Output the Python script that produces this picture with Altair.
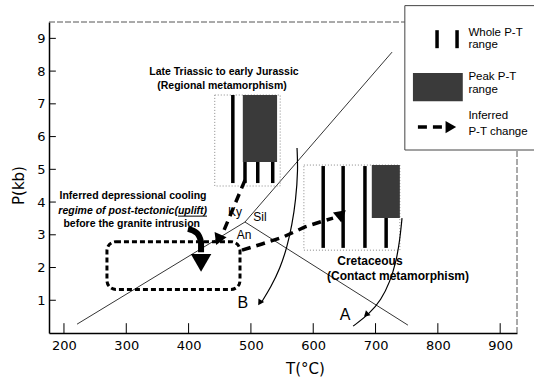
import altair as alt
import pandas as pd

# ---------------- data (T in deg C, P in kb) ----------------
T_DOMAIN = [176, 927]
P_DOMAIN = [0, 9.5]
x_ticks = [200, 300, 400, 500, 600, 700, 800, 900]
y_ticks = [1, 2, 3, 4, 5, 6, 7, 8, 9]

# Al2SiO5 phase boundaries (triple point)
ky_an_T, ky_an_P = [221, 490.5], [0.27, 3.39]
ky_sil_T, ky_sil_P = [490.5, 726.5], [3.39, 8.58]
an_sil_T, an_sil_P = [490.5, 752], [3.39, 0.24]

# Regional (Late Triassic - early Jurassic) ranges
reg_box_T, reg_box_P = [442, 547], [4.49, 7.27]
reg_bar_T = [471, 490.5, 511, 535]
reg_bar_P = [4.58, 7.27]
reg_peak_T, reg_peak_P = [487, 542], [5.22, 7.27]

# Contact (Cretaceous) ranges
cre_box_T, cre_box_P = [585, 739], [2.53, 5.13]
cre_bar_T = [616, 648, 683, 717]
cre_bar_P = [2.6, 5.1]
cre_peak_T, cre_peak_P = [694, 739], [3.51, 5.13]

# inferred depressional cooling regime box
cool_box_T, cool_box_P = [269, 482.5], [1.33, 2.79]

# inferred P-T changes (dashed arrows)
reg_path_T, reg_path_P = [490.5, 453.6], [4.67, 2.99]
reg_head = (449, 2.90, 203)
cre_path_T = [485.7, 517.8, 551.5, 586.8, 615.7, 631.8]
cre_path_P = [2.53, 2.72, 2.93, 3.24, 3.42, 3.51]
cre_head = (643, 3.60, 170)

# uplift arrow (thick black)
up_T = [399, 413.5, 420, 420]
up_P = [3.18, 3.05, 2.78, 2.47]
up_head = (420, 2.23, 180)

# curves A and B
curveB_T = [574, 575.6, 572, 566, 558, 547, 532, 517]
curveB_P = [5.65, 4.98, 4.06, 3.30, 2.63, 1.98, 1.40, 0.94]
B_head = (515, 0.95, 212)
curveA_T = [742.5, 739, 733, 723, 709, 690, 664]
curveA_P = [3.51, 2.84, 2.17, 1.56, 1.01, 0.58, 0.21]
A_head = (686, 0.58, 227)

# legend
leg_box_T, leg_box_P = [747, 965], [5.59, 10.0]
leg_bar_T = [798.7, 830.8]
leg_bar_P = [8.70, 9.25]
leg_peak_T, leg_peak_P = [760, 840], [7.08, 7.94]
leg_arrow_T, leg_arrow_P = [768, 808], 6.29
leg_head = (818, 6.29, 90)
leg_text_T = 849
leg_text = ["Whole P-T", "range", "Peak P-T", "range", "Inferred", "P-T change"]
leg_text_P = [9.16, 8.79, 7.82, 7.42, 6.62, 6.14]

# labels
title_text = ["Late Triassic to early Jurassic", "(Regional metamorphism)"]
title_T, title_P = [456.8, 453.6], [7.97, 7.54]
cre_text = ["Cretaceous", "(Contact metamorphism)"]
cre_text_T, cre_text_P = [691, 736], [2.20, 1.74]
cool_text = ["Inferred depressional cooling", "regime of post-tectonic(uplift)",
             "before the granite intrusion"]
cool_text_T, cool_text_P = [310.8, 310.3, 308.7], [4.18, 3.73, 3.32]
underline_T, underline_P = [383, 429.5], 3.57
phase_text = ["Ky", "Sil", "An"]
phase_T, phase_P = [474.5, 514.6, 489], [3.69, 3.54, 2.99]
path_text = ["A", "B"]
path_T, path_P = [651, 487], [0.55, 0.92]

# ---------------- helpers ----------------
XS = alt.Scale(domain=T_DOMAIN, nice=False, zero=False)
YS = alt.Scale(domain=P_DOMAIN, nice=False, zero=False)
AX = dict(ticks=False, tickSize=0, grid=False, domainColor="black", domainWidth=1.5,
          labelFont="DejaVu Sans", labelFontSize=13, labelColor="black",
          titleFont="DejaVu Sans", titleFontSize=15, titleFontWeight="normal",
          titleColor="black", titleBaseline="middle")
XAXIS = alt.Axis(values=x_ticks, labelPadding=6, titleX=256, titleY=35, **AX)
YAXIS = alt.Axis(values=y_ticks, labelPadding=4, titleX=-31, titleY=163, **AX)


def X(f="T"):
    return alt.X(f"{f}:Q", scale=XS, axis=XAXIS, title="T(°C)")


def Y(f="P"):
    return alt.Y(f"{f}:Q", scale=YS, axis=YAXIS, title="P(kb)")


def line(Ts, Ps, **mk):
    df = pd.DataFrame({"T": Ts, "P": Ps, "i": list(range(len(Ts)))})
    return alt.Chart(df).mark_line(**mk).encode(x=X(), y=Y(), order="i:Q")


def rect(Ts, Ps, **mk):
    df = pd.DataFrame({"T": [Ts[0]], "T2": [Ts[1]], "P": [Ps[0]], "P2": [Ps[1]]})
    return alt.Chart(df).mark_rect(**mk).encode(
        x=X(), x2="T2:Q", y=Y(), y2="P2:Q")


def bars(Ts, Ps, **mk):
    df = pd.DataFrame({"T": Ts, "P": [Ps[0]] * len(Ts), "P2": [Ps[1]] * len(Ts)})
    return alt.Chart(df).mark_rule(**mk).encode(x=X(), y=Y(), y2="P2:Q")


def heads(items, size, shape="triangle"):
    df = pd.DataFrame({"T": [h[0] for h in items], "P": [h[1] for h in items],
                       "a": [h[2] for h in items]})
    return alt.Chart(df).mark_point(shape=shape, filled=True, size=size,
                                    color="black", opacity=1).encode(
        x=X(), y=Y(), angle=alt.Angle("a:Q", scale=None))


def texts(txt, Ts, Ps, **mk):
    df = pd.DataFrame({"T": Ts, "P": Ps, "t": txt})
    return alt.Chart(df).mark_text(color="black", **mk).encode(
        x=X(), y=Y(), text="t:N")


# ---------------- ticks + frame ----------------
xt = pd.DataFrame({"T": x_ticks, "P": [0] * len(x_ticks), "P2": [0.3] * len(x_ticks)})
xtick_layer = alt.Chart(xt).mark_rule(color="black", strokeWidth=1).encode(
    x=X(), y=Y(), y2="P2:Q")
yt = pd.DataFrame({"P": y_ticks, "T": [T_DOMAIN[0]] * len(y_ticks),
                   "T2": [T_DOMAIN[0] + 11] * len(y_ticks)})
ytick_layer = alt.Chart(yt).mark_rule(color="black", strokeWidth=1).encode(
    x=X(), x2="T2:Q", y=Y())

frame_top = line([T_DOMAIN[0], leg_box_T[0]], [P_DOMAIN[1], P_DOMAIN[1]],
                 color="#555", strokeWidth=1, strokeDash=[6, 2])
frame_right = line([T_DOMAIN[1], T_DOMAIN[1]], [P_DOMAIN[0], leg_box_P[0]],
                   color="#555", strokeWidth=1, strokeDash=[6, 2])

# ---------------- content ----------------
thin = dict(color="black", strokeWidth=0.8)
phase = (line(ky_an_T, ky_an_P, **thin) + line(ky_sil_T, ky_sil_P, **thin)
         + line(an_sil_T, an_sil_P, **thin))

dotted = dict(fill=None, fillOpacity=0, stroke="#888", strokeWidth=1, strokeDash=[1, 2])
PEAK = "#3a3a3a"

regional = (rect(reg_box_T, reg_box_P, **dotted)
            + bars(reg_bar_T, reg_bar_P, color="black", strokeWidth=3.5)
            + rect(reg_peak_T, reg_peak_P, color=PEAK))
contact = (rect(cre_box_T, cre_box_P, **dotted)
           + bars(cre_bar_T, cre_bar_P, color="black", strokeWidth=3.5)
           + rect(cre_peak_T, cre_peak_P, color=PEAK))

cool_box = rect(cool_box_T, cool_box_P, fill=None, fillOpacity=0, stroke="black",
                strokeWidth=3, strokeDash=[5, 3], cornerRadius=9)

dashed = dict(color="black", strokeWidth=3.5, strokeDash=[9, 6])
paths = (line(reg_path_T, reg_path_P, **dashed) + line(cre_path_T, cre_path_P, **dashed)
         + heads([reg_head, cre_head], 170))

uplift = line(up_T, up_P, color="black", strokeWidth=6, interpolate="monotone") + \
    heads([up_head], 420)

curves = (line(curveB_T, curveB_P, color="black", strokeWidth=1.2, interpolate="basis")
          + line(curveA_T, curveA_P, color="black", strokeWidth=1.2, interpolate="basis")
          + heads([B_head, A_head], 45))

underline = line(underline_T, [underline_P, underline_P], color="black", strokeWidth=1)

labels = (texts(title_text, title_T, title_P, font="Liberation Sans", fontSize=10.5,
                fontWeight="bold")
          + texts(cre_text, cre_text_T, cre_text_P, font="Liberation Sans", fontSize=12,
                  fontWeight="bold")
          + texts([cool_text[0], cool_text[2]], [cool_text_T[0], cool_text_T[2]],
                  [cool_text_P[0], cool_text_P[2]], font="Liberation Sans", fontSize=10.5,
                  fontWeight="bold")
          + texts([cool_text[1]], [cool_text_T[1]], [cool_text_P[1]], font="Liberation Sans",
                  fontSize=10.5, fontWeight="bold", fontStyle="italic")
          + texts(phase_text, phase_T, phase_P, font="Liberation Sans", fontSize=12)
          + texts(path_text, path_T, path_P, font="Liberation Sans", fontSize=16))

# ---------------- legend ----------------
legend = (rect(leg_box_T, leg_box_P, fill="white", stroke="#444", strokeWidth=1)
          + bars(leg_bar_T, leg_bar_P, color="black", strokeWidth=3.5)
          + rect(leg_peak_T, leg_peak_P, color=PEAK)
          + line(leg_arrow_T, [leg_arrow_P, leg_arrow_P], **dashed)
          + heads([leg_head], 150)
          + texts(leg_text, [leg_text_T] * len(leg_text), leg_text_P, font="Liberation Sans",
                  fontSize=11.5, align="left"))

chart = alt.layer(
    xtick_layer, ytick_layer, frame_top, frame_right,
    phase, regional, contact, cool_box, paths, uplift, curves, underline, labels, legend,
).properties(
    width=468, height=311,
    autosize=alt.AutoSizeParams(type="none"),
    padding={"left": 49, "top": 22, "right": 17, "bottom": 48},
    background="white",
).configure_view(stroke=None)

chart.save("out.html", embed_options={"renderer": "svg", "actions": False})
